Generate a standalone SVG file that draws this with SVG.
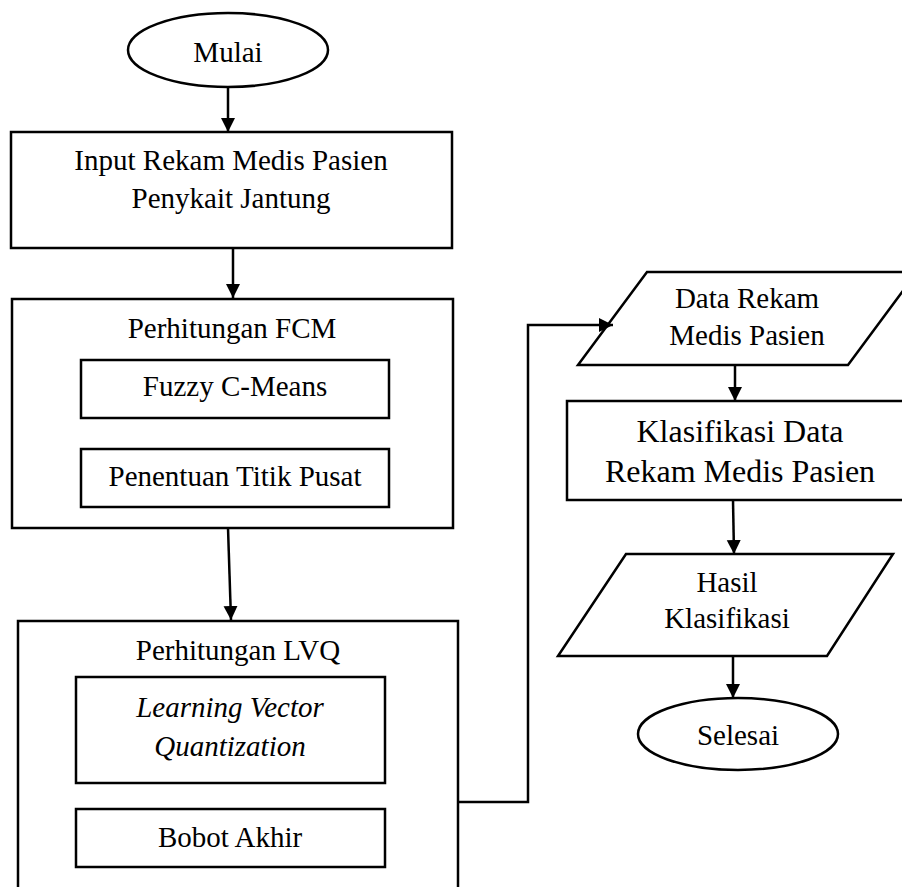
<svg xmlns="http://www.w3.org/2000/svg" width="902" height="887" viewBox="0 0 902 887">
  <style>
    .shape { fill: #fff; stroke: #000; stroke-width: 2.5; }
    .edge { fill: none; stroke: #000; stroke-width: 2.5; }
    text { font-family: "Liberation Serif", "Times New Roman", serif; font-size: 29px; fill: #000; text-anchor: middle; }
    .big { font-size: 32px; }
    .it { font-style: italic; }
  </style>
  <defs>
    <marker id="arrow" markerUnits="userSpaceOnUse" markerWidth="14" markerHeight="16" refX="14" refY="7" orient="auto">
      <path d="M0,0 L14,7 L0,14 Z" fill="#000"/>
    </marker>
  </defs>
  <rect width="902" height="887" fill="#fff"/>

  <g id="start">
    <ellipse class="shape" cx="228" cy="50" rx="100" ry="37"/>
    <text x="228" y="62">Mulai</text>
  </g>

  <g id="input">
    <rect class="shape" x="11" y="132" width="441" height="116"/>
    <text x="231" y="170">Input Rekam Medis Pasien</text>
    <text x="231" y="208">Penykait Jantung</text>
  </g>

  <g id="fcm">
    <rect class="shape" x="12" y="299" width="441" height="229"/>
    <text x="232" y="338">Perhitungan FCM</text>
    <rect class="shape" x="81" y="360" width="308" height="58"/>
    <text x="235" y="396">Fuzzy C-Means</text>
    <rect class="shape" x="81" y="449" width="308" height="58"/>
    <text x="235" y="486">Penentuan Titik Pusat</text>
  </g>

  <g id="lvq">
    <rect class="shape" x="18" y="621" width="440" height="280"/>
    <text x="238" y="660">Perhitungan LVQ</text>
    <rect class="shape" x="76" y="677" width="309" height="106"/>
    <text class="it" x="230" y="717">Learning Vector</text>
    <text class="it" x="230" y="756">Quantization</text>
    <rect class="shape" x="76" y="809" width="309" height="58"/>
    <text x="230" y="847">Bobot Akhir</text>
  </g>

  <g id="data">
    <polygon class="shape" points="647,272 917,272 848,365 578,365"/>
    <text x="747" y="308">Data Rekam</text>
    <text x="747" y="345">Medis Pasien</text>
  </g>

  <g id="klasifikasi">
    <rect class="shape" x="567" y="401" width="345" height="99"/>
    <text class="big" x="740" y="442">Klasifikasi Data</text>
    <text class="big" x="740" y="482">Rekam Medis Pasien</text>
  </g>

  <g id="hasil">
    <polygon class="shape" points="626,554 893,554 827,656 558,656"/>
    <text x="727" y="592">Hasil</text>
    <text x="727" y="628">Klasifikasi</text>
  </g>

  <g id="end">
    <ellipse class="shape" cx="738" cy="734" rx="100" ry="36"/>
    <text x="738" y="745">Selesai</text>
  </g>

  <g id="connectors">
    <line class="edge" x1="228" y1="88" x2="228" y2="132" marker-end="url(#arrow)"/>
    <line class="edge" x1="233" y1="248" x2="233" y2="298" marker-end="url(#arrow)"/>
    <line class="edge" x1="228" y1="528" x2="231" y2="620" marker-end="url(#arrow)"/>
    <polyline class="edge" points="458,802 528,802 528,325 613,325" marker-end="url(#arrow)"/>
    <line class="edge" x1="735" y1="365" x2="735" y2="401" marker-end="url(#arrow)"/>
    <line class="edge" x1="733" y1="500" x2="734" y2="554" marker-end="url(#arrow)"/>
    <line class="edge" x1="733" y1="657" x2="733" y2="698" marker-end="url(#arrow)"/>
  </g>
</svg>
